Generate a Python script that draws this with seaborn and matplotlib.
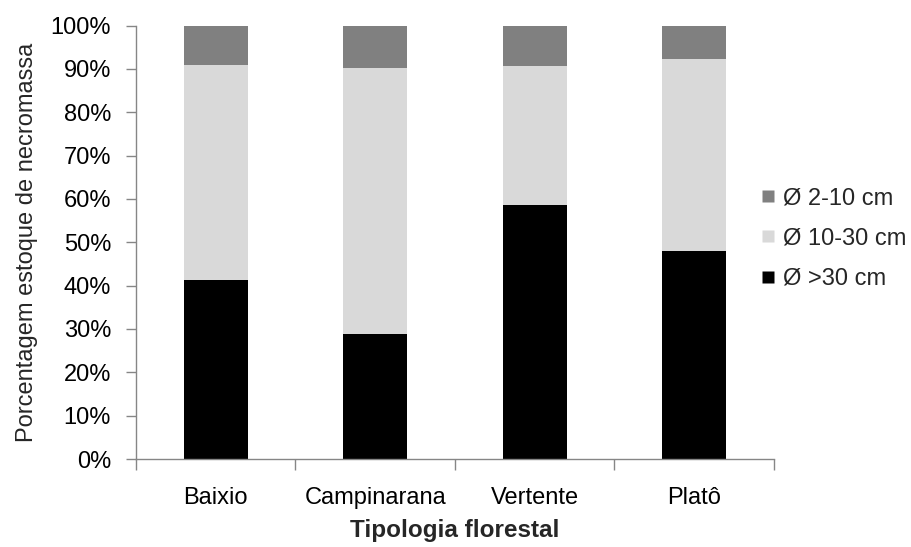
import matplotlib
matplotlib.use("Agg")
import matplotlib.pyplot as plt
import seaborn as sns
import numpy as np
import pandas as pd
from matplotlib.lines import Line2D
from matplotlib.ticker import FuncFormatter, FixedLocator

categories = ["Baixio", "Campinarana", "Vertente", "Platô"]
gt30 = [41.2, 28.9, 58.5, 47.9]
d10_30 = [49.8, 61.4, 32.2, 44.3]
d2_10 = [9.0, 9.7, 9.3, 7.8]
series_labels = ["Ø 2-10 cm", "Ø 10-30 cm", "Ø >30 cm"]
colors = ["#808080", "#d9d9d9", "#000000"]

sns.set_theme(style="white")
plt.rcParams["font.family"] = ["Liberation Sans", "DejaVu Sans"]

df = pd.DataFrame({
    "cat": categories,
    "c1": np.array(gt30),
    "c2": np.array(gt30) + np.array(d10_30),
    "c3": np.array(gt30) + np.array(d10_30) + np.array(d2_10),
})

fig = plt.figure(figsize=(9.12, 5.47), dpi=100)
ax = fig.add_axes([136/912, (547-459)/547, (774-136)/912, (459-25.5)/547])

for col, c in zip(["c3", "c2", "c1"], colors):
    sns.barplot(data=df, x="cat", y=col, color=c, width=0.4, ax=ax,
                saturation=1, edgecolor="none", linewidth=0)

ax.set_xlim(-0.5, 3.5)
ax.set_ylim(0, 100)
ax.yaxis.set_major_locator(FixedLocator(np.arange(0, 101, 10)))
ax.yaxis.set_major_formatter(FuncFormatter(lambda v, p: f"{int(round(v))}%"))
ax.tick_params(axis="y", which="major", length=7, width=1, color="#868686",
               direction="out", left=True, labelsize=17, pad=11, labelcolor="#000000")
ax.tick_params(axis="x", which="major", length=0, labelsize=17, pad=20, labelcolor="#000000")
ax.xaxis.set_minor_locator(FixedLocator([-0.5, 0.5, 1.5, 2.5, 3.5]))
ax.tick_params(axis="x", which="minor", length=8, width=1, color="#868686",
               direction="out", bottom=True)

for s in ["top", "right"]:
    ax.spines[s].set_visible(False)
for s in ["left", "bottom"]:
    ax.spines[s].set_color("#868686")
    ax.spines[s].set_linewidth(1)

ax.set_xlabel("Tipologia florestal", fontsize=17.5, fontweight="bold", labelpad=7)
ax.set_ylabel("Porcentagem estoque de necromassa", fontsize=17, labelpad=9)

handles = [Line2D([0], [0], marker="s", linestyle="none", markersize=8,
                  markerfacecolor=c, markeredgecolor="none") for c in colors]
fig.legend(handles, series_labels, loc="center left",
           bbox_to_anchor=(759.5/912, 1 - 238.5/547), frameon=False,
           borderpad=0, borderaxespad=0,
           fontsize=17, handletextpad=0.3, labelspacing=0.78, handlelength=0.7)

fig.savefig("out.png", dpi=100)
